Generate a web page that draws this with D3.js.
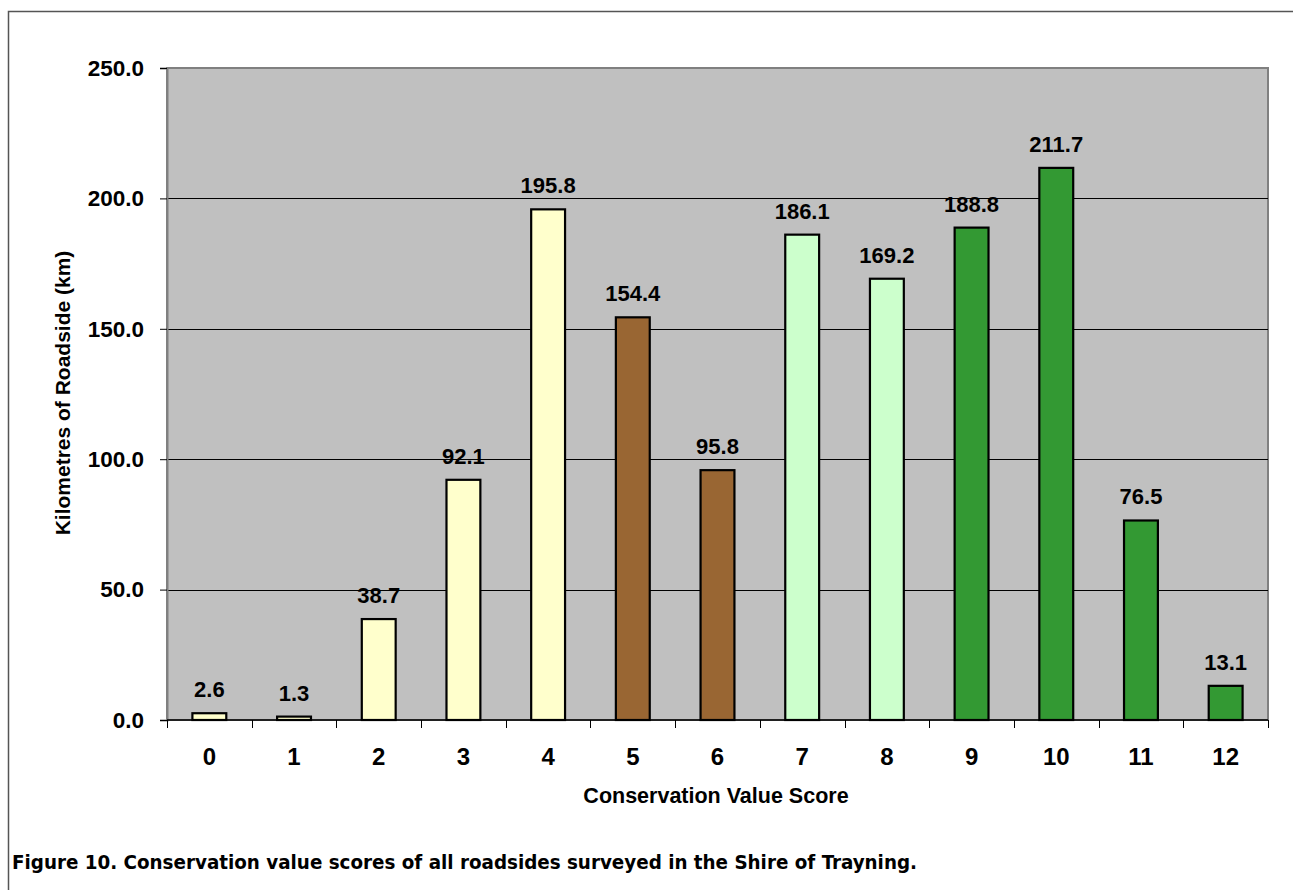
<!DOCTYPE html>
<html>
<head>
<meta charset="utf-8">
<script src="https://cdn.jsdelivr.net/npm/d3@7"></script>
<style>
  body { margin: 0; background: #fff; }
  svg { display: block; font-family: "Liberation Sans", Arial, sans-serif; }
</style>
</head>
<body>
<svg id="chart" width="1293" height="890"></svg>
<script>
// data
var scores = ["0", "1", "2", "3", "4", "5", "6", "7", "8", "9", "10", "11", "12"];
var kilometres = [2.6, 1.3, 38.7, 92.1, 195.8, 154.4, 95.8, 186.1, 169.2, 188.8, 211.7, 76.5, 13.1];
var groups = ["low", "low", "low", "low", "low", "mid", "mid", "high", "high", "top", "top", "top", "top"];
var yTicks = [0, 50, 100, 150, 200, 250];

var groupColour = { low: "#ffffcc", mid: "#996633", high: "#ccffcc", top: "#339933" };

var margin = { left: 167, top: 68, right: 1268, bottom: 720 };
var font = "Liberation Sans, Arial, sans-serif";

var svg = d3.select("#chart");

// outer frame
svg.append("rect")
  .attr("x", 8.5).attr("y", 11.5)
  .attr("width", 1300).attr("height", 900)
  .attr("fill", "none")
  .attr("stroke", "#555").attr("stroke-width", 1.5);

var x = d3.scaleBand()
  .domain(scores)
  .range([margin.left, margin.right])
  .paddingInner(0.6)
  .paddingOuter(0.3);

var y = d3.scaleLinear()
  .domain([0, 250])
  .range([margin.bottom, margin.top]);

// plot area
svg.append("rect")
  .attr("x", margin.left).attr("y", margin.top)
  .attr("width", margin.right - margin.left)
  .attr("height", margin.bottom - margin.top)
  .attr("fill", "#c0c0c0")
  .attr("stroke", "#808080").attr("stroke-width", 2);

// gridlines
svg.append("g")
  .selectAll("line")
  .data(yTicks.filter(function (d) { return d > 0 && d < 250; }))
  .join("line")
  .attr("x1", margin.left).attr("x2", margin.right)
  .attr("y1", function (d) { return Math.round(y(d)) + 0.5; })
  .attr("y2", function (d) { return Math.round(y(d)) + 0.5; })
  .attr("stroke", "#000").attr("stroke-width", 1);

// y axis
var yAxis = svg.append("g")
  .attr("transform", "translate(" + margin.left + ",0)")
  .attr("font-family", font)
  .call(d3.axisLeft(y).tickValues(yTicks).tickSize(7).tickPadding(16)
    .tickFormat(d3.format(".1f")));
yAxis.select(".domain").attr("stroke", "#808080").attr("stroke-width", 2);
yAxis.selectAll(".tick line").attr("stroke", "#000");
yAxis.selectAll("text")
  .attr("font-size", 22.5).attr("font-weight", "bold").attr("fill", "#000")
  .attr("font-family", font);

// bars
svg.append("g")
  .selectAll("rect")
  .data(kilometres)
  .join("rect")
  .attr("x", function (d, i) { return x(scores[i]); })
  .attr("y", function (d) { return y(d); })
  .attr("width", x.bandwidth())
  .attr("height", function (d) { return y(0) - y(d); })
  .attr("fill", function (d, i) { return groupColour[groups[i]]; })
  .attr("stroke", "#000").attr("stroke-width", 2.2);

// value labels
svg.append("g")
  .selectAll("text")
  .data(kilometres)
  .join("text")
  .attr("x", function (d, i) { return x(scores[i]) + x.bandwidth() / 2; })
  .attr("y", function (d) { return y(d) - 16; })
  .attr("text-anchor", "middle")
  .attr("font-size", 22).attr("font-weight", "bold")
  .text(function (d) { return d.toFixed(1); });

// x axis
var xTickScale = d3.scaleLinear().domain([0, scores.length]).range([margin.left, margin.right]);
var xAxis = svg.append("g")
  .attr("transform", "translate(0," + margin.bottom + ")");
xAxis.append("line")
  .attr("x1", margin.left).attr("x2", margin.right)
  .attr("stroke", "#000").attr("stroke-width", 1.5);
xAxis.selectAll("line.tick")
  .data(d3.range(scores.length + 1))
  .join("line")
  .attr("class", "tick")
  .attr("x1", function (d) { return Math.round(xTickScale(d)) + 0.5; })
  .attr("x2", function (d) { return Math.round(xTickScale(d)) + 0.5; })
  .attr("y1", 0).attr("y2", 8)
  .attr("stroke", "#000");
xAxis.selectAll("text")
  .data(scores)
  .join("text")
  .attr("x", function (d) { return x(d) + x.bandwidth() / 2; })
  .attr("y", 45)
  .attr("text-anchor", "middle")
  .attr("font-size", 24).attr("font-weight", "bold")
  .text(function (d) { return d; });

// axis titles
svg.append("text")
  .attr("x", 716).attr("y", 803)
  .attr("text-anchor", "middle")
  .attr("font-size", 21.5).attr("font-weight", "bold")
  .text("Conservation Value Score");

svg.append("text")
  .attr("transform", "translate(70,393) rotate(-90)")
  .attr("text-anchor", "middle")
  .attr("font-size", 21).attr("font-weight", "bold")
  .text("Kilometres of Roadside (km)");

// caption
svg.append("text")
  .attr("x", 12).attr("y", 869)
  .attr("font-size", 20).attr("font-weight", "bold")
  .attr("font-family", "DejaVu Sans Condensed, DejaVu Sans, sans-serif")
  .attr("textLength", 905).attr("lengthAdjust", "spacingAndGlyphs")
  .text("Figure 10. Conservation value scores of all roadsides surveyed in the Shire of Trayning.");
</script>
</body>
</html>
